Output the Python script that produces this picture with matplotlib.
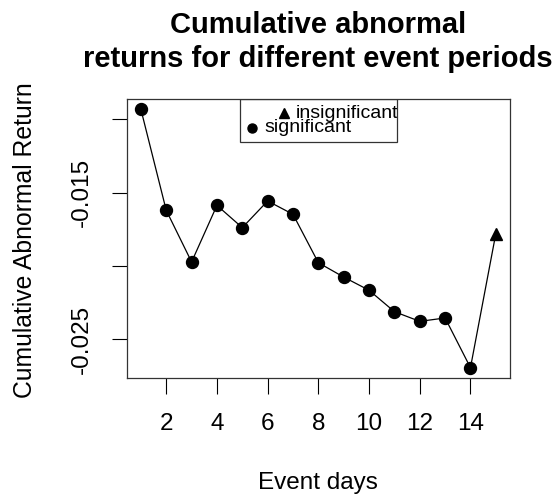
import matplotlib
matplotlib.use('Agg')
import matplotlib.pyplot as plt
from matplotlib.patches import Rectangle

# Event days and cumulative abnormal returns
sig_days = [1, 2, 3, 4, 5, 6, 7, 8, 9, 10, 11, 12, 13, 14]
sig_car = [-0.00932, -0.01621, -0.01973, -0.01587, -0.01739, -0.01557, -0.01648,
           -0.01978, -0.02076, -0.02166, -0.02312, -0.02378, -0.02355, -0.02694]
insig_days = [15]
insig_car = [-0.01780]

x_ticks = [2, 4, 6, 8, 10, 12, 14]
y_ticks = [-0.010, -0.015, -0.020, -0.025]
y_ticklabels = ['', '-0.015', '', '-0.025']

plt.rcParams['font.family'] = ['Liberation Sans', 'DejaVu Sans']

fig = plt.figure(figsize=(5.54, 4.97), dpi=100)
ax = fig.add_axes([0.2287, 0.2394, 0.6919, 0.5614])

all_days = sig_days + insig_days
all_car = sig_car + insig_car
ax.plot(all_days, all_car, color='black', lw=0.9, zorder=2)
ax.plot(sig_days, sig_car, 'o', color='black', ms=8.6, zorder=3)
ax.plot(insig_days, insig_car, '^', color='black', ms=9, zorder=3)

# R style axis ranges (4% padding)
xr = max(all_days) - min(all_days)
yr = max(all_car) - min(all_car)
ax.set_xlim(min(all_days) - 0.04 * xr, max(all_days) + 0.04 * xr)
ax.set_ylim(min(all_car) - 0.04 * yr, max(all_car) + 0.04 * yr)

ax.set_xticks(x_ticks)
ax.set_xticklabels([str(t) for t in x_ticks])
ax.set_yticks(y_ticks)
ax.set_yticklabels(y_ticklabels, rotation=90, va='center')
ax.tick_params(axis='x', length=11.5, width=0.8, pad=14, labelsize=17.5)
ax.tick_params(axis='y', length=11, width=0.8, pad=13, labelsize=17.5)
for s in ax.spines.values():
    s.set_linewidth(0.9)
    s.set_color('#333333')

ax.set_xlabel('Event days', fontsize=17.5, va='center')
ax.xaxis.set_label_coords(0.5, -0.376)
ax.set_ylabel('Cumulative Abnormal Return', fontsize=17.8, va='center')
ax.yaxis.set_label_coords(-0.265, 0.493)

# two-line bold title
fig.text(0.5745, 1 - 33 / 497, 'Cumulative abnormal',
         ha='center', va='baseline', fontsize=21, fontweight='bold')
fig.text(0.5745, 1 - 67 / 497, 'returns for different event periods',
         ha='center', va='baseline', fontsize=21, fontweight='bold')

# legend box drawn by hand to match the odd R layout
ax.add_patch(Rectangle((0.2956, 0.8448), 0.4088, 0.1552, transform=ax.transAxes,
                       fill=False, edgecolor='#333333', lw=0.9, zorder=4))
ax.plot([0.4104], [0.9498], '^', color='black', ms=6.5, transform=ax.transAxes, clip_on=False)
ax.plot([0.3270], [0.8961], 'o', color='black', ms=6.5, transform=ax.transAxes, clip_on=False)
ax.text(0.4403, 0.9498, 'insignificant', transform=ax.transAxes, fontsize=14, va='center')
ax.text(0.3582, 0.8961, 'significant', transform=ax.transAxes, fontsize=14, va='center')

fig.savefig('out.png', dpi=100)
